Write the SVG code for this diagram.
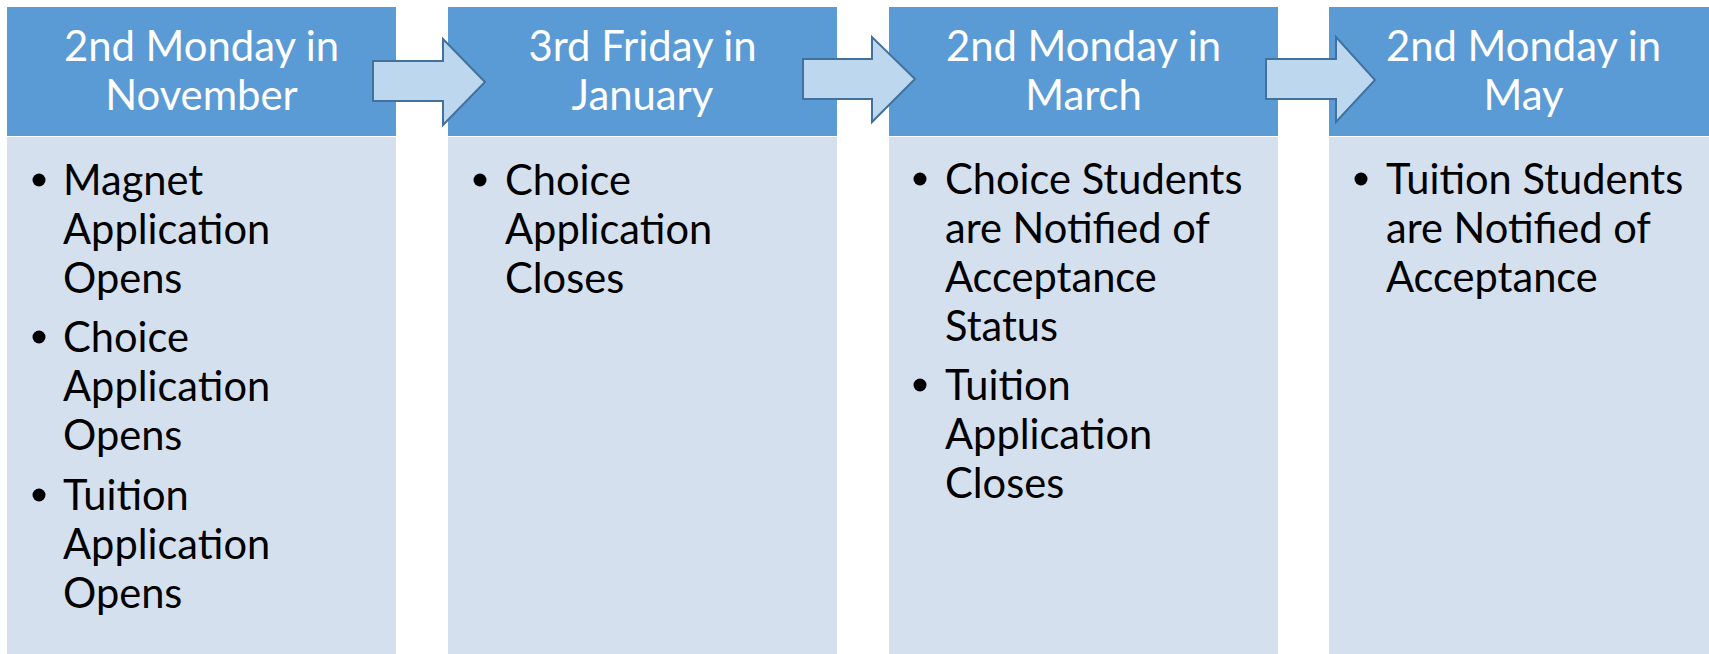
<svg xmlns="http://www.w3.org/2000/svg" width="1709" height="654" viewBox="0 0 1709 654">
<style>
.hdr{fill:#5B9BD5}
.body{fill:#D5E0EF}
.ht{font-family:Lato,"Open Sans",sans-serif;font-size:41.8px;fill:#FFFFFF;text-anchor:middle}
.bt{font-family:Lato,"Open Sans",sans-serif;font-size:41.6px;fill:#000000}
.bul{fill:#000000}
.arrow{fill:#BDD7EE;stroke:#41719C;stroke-width:2;stroke-linejoin:miter}
</style>
<rect width="1709" height="654" fill="#FFFFFF"/>
<g id="node1">
<rect class="hdr" x="7" y="7" width="389" height="129"/>
<rect class="body" x="7" y="137" width="389" height="517"/>
<text class="ht" x="201.5" y="61">2nd Monday in</text>
<text class="ht" x="201.5" y="110">November</text>
<circle class="bul" cx="39" cy="180" r="6.5"/>
<text class="bt" x="63" y="195">Magnet</text>
<text class="bt" x="63" y="244">Application</text>
<text class="bt" x="63" y="293">Opens</text>
<circle class="bul" cx="39" cy="337" r="6.5"/>
<text class="bt" x="63" y="352">Choice</text>
<text class="bt" x="63" y="401">Application</text>
<text class="bt" x="63" y="450">Opens</text>
<circle class="bul" cx="39" cy="495" r="6.5"/>
<text class="bt" x="63" y="510">Tuition</text>
<text class="bt" x="63" y="559">Application</text>
<text class="bt" x="63" y="608">Opens</text>
</g>
<g id="node2">
<rect class="hdr" x="448" y="7" width="389" height="129"/>
<rect class="body" x="448" y="137" width="389" height="517"/>
<text class="ht" x="642.5" y="61">3rd Friday in</text>
<text class="ht" x="642.5" y="110">January</text>
<circle class="bul" cx="480" cy="180" r="6.5"/>
<text class="bt" x="505" y="195">Choice</text>
<text class="bt" x="505" y="244">Application</text>
<text class="bt" x="505" y="293">Closes</text>
</g>
<g id="node3">
<rect class="hdr" x="889" y="7" width="389" height="129"/>
<rect class="body" x="889" y="137" width="389" height="517"/>
<text class="ht" x="1083.5" y="61">2nd Monday in</text>
<text class="ht" x="1083.5" y="110">March</text>
<circle class="bul" cx="920" cy="179" r="6.5"/>
<text class="bt" x="945" y="194">Choice Students</text>
<text class="bt" x="945" y="243">are Notified of</text>
<text class="bt" x="945" y="292">Acceptance</text>
<text class="bt" x="945" y="341">Status</text>
<circle class="bul" cx="920" cy="385" r="6.5"/>
<text class="bt" x="945" y="400">Tuition</text>
<text class="bt" x="945" y="449">Application</text>
<text class="bt" x="945" y="498">Closes</text>
</g>
<g id="node4">
<rect class="hdr" x="1329" y="7" width="389" height="129"/>
<rect class="body" x="1329" y="137" width="389" height="517"/>
<text class="ht" x="1523.5" y="61">2nd Monday in</text>
<text class="ht" x="1523.5" y="110">May</text>
<circle class="bul" cx="1361" cy="179" r="6.5"/>
<text class="bt" x="1386" y="194">Tuition Students</text>
<text class="bt" x="1386" y="243">are Notified of</text>
<text class="bt" x="1386" y="292">Acceptance</text>
</g>
<g id="connectors">
<polygon class="arrow" points="373,61 443,61 443,39 485,82 443,125 443,101 373,101"/>
<polygon class="arrow" points="803,59 872,59 872,37 915,79 872,122 872,99 803,99"/>
<polygon class="arrow" points="1266,59 1336,59 1336,37 1375,80 1336,122 1336,99 1266,99"/>
</g>
</svg>
